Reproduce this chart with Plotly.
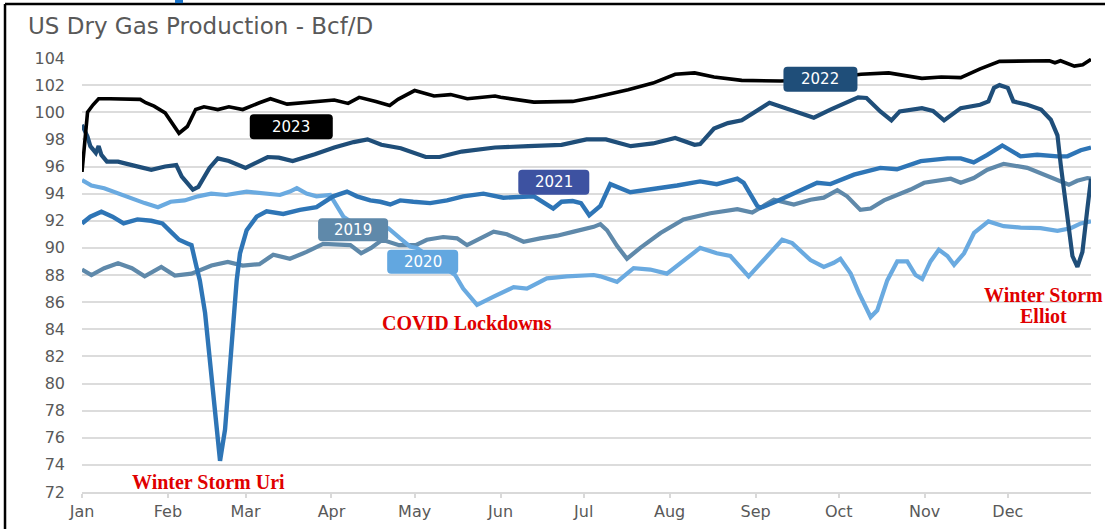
import plotly.graph_objects as go

# ---------------- data (x = day of year, y = Bcf/D) ----------------
month_days = [0, 31, 59, 90, 120, 151, 181, 212, 243, 273, 304, 334]
month_labels = ["Jan", "Feb", "Mar", "Apr", "May", "Jun", "Jul", "Aug", "Sep", "Oct", "Nov", "Dec"]

days_2019 = [0, 3.4, 8, 13, 18, 22.6, 28.6, 33.5, 39.5, 46.7,
             52.6, 58, 64, 69, 75, 81, 87, 96.8, 100.7, 104.3,
             108.3, 114.4, 120.4, 124.4, 130.3, 135.3, 138.9, 143.7, 148.5, 153.3,
             159.3, 165.3, 171.4, 177.4, 184.6, 187, 189.4, 193, 196.6, 201.4,
             208.7, 217, 226.7, 236.4, 241.8, 249.6, 256.8, 262.8, 267.6, 272.5,
             276, 280.8, 284.5, 289.3, 298.9, 303.8, 313.4, 317, 321.7, 326.6,
             332.5, 341, 345.8, 350.7, 356, 359, 362.7, 364]
vals_2019 = [88.4, 88.0, 88.5, 88.86, 88.5, 87.9, 88.6, 87.96, 88.1, 88.7,
             88.97, 88.7, 88.8, 89.5, 89.2, 89.7, 90.3, 90.2, 89.6, 90.0,
             90.6, 90.2, 90.2, 90.6, 90.8, 90.7, 90.2, 90.7, 91.2, 91.0,
             90.45, 90.7, 90.9, 91.2, 91.55, 91.75, 91.3, 90.15, 89.2, 90.0,
             91.1, 92.1, 92.55, 92.85, 92.6, 93.55, 93.2, 93.55, 93.7, 94.25,
             93.8, 92.8, 92.9, 93.5, 94.3, 94.8, 95.1, 94.8, 95.15, 95.76,
             96.2, 95.9, 95.5, 95.1, 94.65, 94.95, 95.15, 95.1]

days_2020 = [0, 3.4, 8, 13, 18, 22.6, 27.4, 32, 37, 41.8,
             46.6, 52, 59.4, 65.4, 71.4, 75, 77.5, 81, 84.6, 89.5,
             91.3, 94.3, 98, 110.5, 114.8, 118.4, 120.8, 134.6, 137.5, 142.5,
             148.5, 155.7, 160.5, 167.7, 174.9, 184.6, 187, 193, 199, 205,
             211, 215.9, 223, 229, 233.9, 240.5, 246, 252.6, 256.2, 259,
             262.8, 267.6, 271.2, 273.6, 277.3, 280.3, 282.7, 284.5, 286.9, 290.5,
             294.1, 297.7, 300.7, 303.1, 306.1, 309.1, 312.2, 314.6, 318.2, 321.8,
             327, 332.5, 338.6, 345.8, 351.9, 356.7, 360.3, 364]
vals_2020 = [95.0, 94.6, 94.4, 94.0, 93.65, 93.3, 93.0, 93.4, 93.5, 93.8,
             94.0, 93.9, 94.15, 94.0, 93.9, 94.15, 94.4, 94.0, 93.8, 93.9,
             93.3, 92.3, 91.8, 91.45, 90.7, 90.1, 90.0, 88.0, 87.0, 85.8,
             86.4, 87.1, 87.0, 87.75, 87.9, 88.0, 87.9, 87.5, 88.5, 88.4,
             88.1, 88.9, 90.0, 89.6, 89.4, 87.9, 89.15, 90.6, 90.35, 89.86,
             89.1, 88.6, 88.9, 89.2, 88.1, 86.66, 85.7, 84.9, 85.4, 87.6,
             89.0, 89.0, 88.0, 87.7, 89.0, 89.86, 89.4, 88.75, 89.6, 91.1,
             91.95, 91.6, 91.5, 91.45, 91.26, 91.45, 91.8, 91.95]

days_2021 = [0, 3, 7, 11, 15, 20, 25, 29, 32, 35,
             38, 39.5, 41.3, 42.5, 44.4, 46.2, 48, 49.8, 51.6, 53.4,
             54.6, 55.8, 57, 59.4, 63, 66.6, 72.6, 78.6, 84.6, 90.6,
             95.6, 99.2, 104, 107.6, 111.2, 114.8, 119.5, 125.6, 131.7, 137.5,
             144.8, 152, 163, 170, 173, 177, 180, 183, 187, 190.6,
             197.8, 205, 214.7, 223, 229, 236.4, 238.7, 243.6, 244.8, 250.8,
             257, 265.2, 270, 278.5, 288, 294, 302.6, 312.2, 317, 321.7,
             326.6, 332, 338.6, 344.6, 351.9, 355.5, 360.3, 364]
vals_2021 = [91.8, 92.3, 92.67, 92.3, 91.8, 92.1, 92.0, 91.8, 91.2, 90.6,
             90.33, 90.2, 88.6, 87.6, 85.2, 81.5, 77.3, 74.3, 76.6, 81.2,
             85.2, 87.6, 89.6, 91.3, 92.3, 92.7, 92.5, 92.8, 93.0, 93.8,
             94.15, 93.8, 93.5, 93.4, 93.2, 93.5, 93.4, 93.3, 93.5, 93.8,
             94.0, 93.7, 93.8, 92.9, 93.4, 93.45, 93.3, 92.4, 93.1, 94.7,
             94.1, 94.3, 94.6, 94.9, 94.7, 95.1, 94.8, 93.1, 92.95, 93.45,
             94.0, 94.8, 94.7, 95.4, 95.9, 95.8, 96.4, 96.6, 96.6, 96.3,
             96.85, 97.55, 96.75, 96.87, 96.75, 96.75, 97.2, 97.4]

days_2022 = [0, 2, 3, 5, 6, 7, 9, 13, 18, 25,
             30, 34, 36, 40, 42, 46, 49, 53, 59, 67,
             71, 76, 84, 91, 98, 103, 108, 115, 124, 129,
             137, 149, 161, 173, 182, 189, 198, 206, 214, 221,
             223, 228, 233, 238, 248, 254, 264, 270, 280, 283,
             288, 292, 295, 303, 307, 311, 317, 324, 327, 329,
             331, 334, 336, 341, 346, 349.5, 351.9, 353.1, 355.5, 357.3,
             359.1, 360.9, 362.7, 364]
vals_2022 = [99.07, 98.2, 97.5, 97.0, 97.5, 96.85, 96.36, 96.36, 96.1, 95.75,
             96.0, 96.1, 95.25, 94.3, 94.5, 95.9, 96.6, 96.4, 95.9, 96.7,
             96.65, 96.4, 96.9, 97.4, 97.8, 98.0, 97.6, 97.35, 96.7, 96.7,
             97.1, 97.4, 97.5, 97.6, 98.0, 98.0, 97.5, 97.7, 98.1, 97.6,
             97.65, 98.8, 99.2, 99.4, 100.7, 100.3, 99.6, 100.2, 101.1, 101.05,
             100.06, 99.4, 100.06, 100.3, 100.1, 99.4, 100.3, 100.55, 100.8, 101.8,
             102.0, 101.8, 100.8, 100.55, 100.2, 99.45, 98.3, 96.1, 91.9, 89.4,
             88.6, 89.7, 92.9, 95.1]

days_2023 = [0, 1, 2, 4, 6, 10, 15, 21, 23, 26,
             30, 35, 38, 41, 44, 49, 53, 58, 64, 68,
             74, 81, 91, 96, 100, 106, 111, 114, 120, 127,
             133, 139, 149, 151, 163, 177, 185, 197, 206, 214,
             221, 228, 238, 252, 266, 281, 291, 303, 310, 317,
             324, 331, 341, 349, 351, 353, 358, 361, 364]
vals_2023 = [95.6, 98.2, 100.0, 100.55, 101.0, 101.0, 100.95, 100.95, 100.7, 100.45,
             99.95, 98.45, 98.95, 100.2, 100.4, 100.2, 100.4, 100.2, 100.7, 101.0,
             100.6, 100.7, 100.9, 100.65, 101.1, 100.8, 100.5, 100.95, 101.6, 101.2,
             101.3, 101.0, 101.2, 101.1, 100.75, 100.8, 101.1, 101.66, 102.15, 102.8,
             102.9, 102.6, 102.35, 102.3, 102.4, 102.8, 102.9, 102.5, 102.6, 102.55,
             103.2, 103.75, 103.8, 103.8, 103.65, 103.8, 103.4, 103.5, 103.9]

# year labels (boxes)
label_names = ["2023", "2022", "2021", "2019", "2020"]
label_x = [75.5, 266.4, 170.2, 97.8, 122.9]
label_y = [98.93, 102.44, 94.83, 91.33, 88.97]
label_colors = ["#000000", "#1f4e79", "#3d52a1", "#5f89aa", "#62a7e0"]
label_w = [83, 74, 71, 70, 71]
label_h = [25, 25, 25, 23, 24]

# event annotations
event_texts = ["Winter Storm Uri", "COVID Lockdowns", "Winter Storm", "Elliot"]
event_x = [45.5, 139.0, 347.0, 347.0]
event_y = [72.75, 84.47, 86.53, 84.98]

# ---------------- figure ----------------
fig = go.Figure()
series = [
    ("2019", days_2019, vals_2019, "#5f89aa", 4.2),
    ("2020", days_2020, vals_2020, "#6aaae0", 4.2),
    ("2021", days_2021, vals_2021, "#2e75b6", 4.4),
    ("2022", days_2022, vals_2022, "#1f4e79", 4.2),
    ("2023", days_2023, vals_2023, "#000000", 3.6),
]
for name, xs, ys, col, w in series:
    fig.add_trace(go.Scatter(x=xs, y=ys, mode="lines", name=name,
                             line=dict(color=col, width=w), showlegend=False,
                             hoverinfo="skip"))


def rounded_rect(w, h, r):
    a, b = w / 2, h / 2
    return (f"M {-a + r},{-b} L {a - r},{-b} Q {a},{-b} {a},{-b + r} "
            f"L {a},{b - r} Q {a},{b} {a - r},{b} L {-a + r},{b} "
            f"Q {-a},{b} {-a},{b - r} L {-a},{-b + r} Q {-a},{-b} {-a + r},{-b} Z")


shapes = []
annotations = []
for name, x, y, c, w, h in zip(label_names, label_x, label_y, label_colors, label_w, label_h):
    shapes.append(dict(type="path", xref="x", yref="y", xsizemode="pixel", ysizemode="pixel",
                       xanchor=x, yanchor=y, path=rounded_rect(w, h, 4),
                       fillcolor=c, line=dict(width=0), layer="above"))
    annotations.append(dict(x=x, y=y, xref="x", yref="y", text=name, showarrow=False,
                            xanchor="center", yanchor="middle",
                            font=dict(family="DejaVu Sans", size=15, color="#ffffff")))

for t, x, y in zip(event_texts, event_x, event_y):
    annotations.append(dict(x=x, y=y, xref="x", yref="y", text=f"<b>{t}</b>", showarrow=False,
                            xanchor="center", yanchor="middle",
                            font=dict(family="Liberation Serif", size=20, color="#e00000")))

# frame lines and small blue mark of the screenshot
shapes.append(dict(type="line", xref="paper", yref="paper", x0=-0.0763, x1=-0.0763,
                   y0=-0.09, y1=1.1244, line=dict(color="#000000", width=2.5), layer="above"))
shapes.append(dict(type="line", xref="paper", yref="paper", x0=-0.0763, x1=1.03,
                   y0=1.1244, y1=1.1244, line=dict(color="#000000", width=2.5), layer="above"))
shapes.append(dict(type="rect", xref="paper", yref="paper", x0=0.0922, x1=0.1001,
                   y0=1.1264, y1=1.14, fillcolor="#1a73c8", line=dict(width=0), layer="above"))

fig.update_layout(
    width=1105, height=529,
    margin=dict(l=82, r=14, t=58, b=37, autoexpand=False),
    paper_bgcolor="#ffffff", plot_bgcolor="#ffffff",
    title=dict(text="US Dry Gas Production - Bcf/D", x=28 / 1105, xanchor="left",
               y=1 - 26 / 529, yanchor="middle", yref="container", automargin=False,
               font=dict(family="DejaVu Sans", size=23, color="#595959")),
    shapes=shapes, annotations=annotations,
    xaxis=dict(range=[0, 364], tickvals=month_days, ticktext=month_labels, automargin=False,
               showgrid=False, zeroline=False, showline=True, linecolor="#d9d9d9", linewidth=1.5,
               ticks="outside", ticklen=4, tickcolor="#d9d9d9", tickwidth=1.5,
               tickfont=dict(family="DejaVu Sans", size=16, color="#595959")),
    yaxis=dict(range=[72, 104], dtick=2, tick0=72, showgrid=True, gridcolor="#dcdcdc", gridwidth=1.5,
               zeroline=False, showline=False, ticks="", ticklabelstandoff=16, automargin=False,
               tickfont=dict(family="DejaVu Sans", size=16, color="#595959")),
)

# remove the page's default body margin so the figure fills the window exactly
fig.write_html("out.html", config={"displayModeBar": False},
               post_script="document.body.style.margin='0';")
